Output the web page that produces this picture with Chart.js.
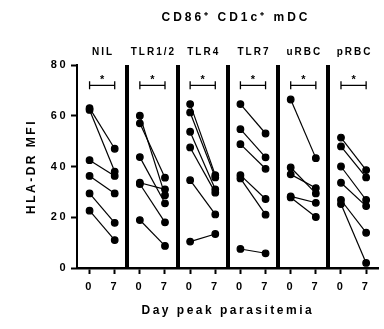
<!DOCTYPE html>
<html>
<head>
<meta charset="utf-8">
<script src="https://cdn.jsdelivr.net/npm/chart.js"></script>
<style>
  html, body { margin: 0; padding: 0; background: #fff; }
</style>
</head>
<body>
<canvas id="chart" width="384" height="329"></canvas>
<script>
// panel names and x tick labels
var panels = ['NIL', 'TLR1/2', 'TLR4', 'TLR7', 'uRBC', 'pRBC'];
var dayLabels = ['0', '7'];
var yTicks = [0, 20, 40, 60, 80];

// HLA-DR MFI per donor, day 0 and day 7 (same order = same donor)
var day0 = [
    [63, 62.3, 42.5, 36.3, 29.4, 22.6],
    [60, 57, 43.7, 33.6, 33.1, 18.9],
    [64.6, 61.3, 53.7, 47.5, 34.6, 10.4],
    [64.6, 54.7, 48.8, 36.6, 35.3, 7.5],
    [66.4, 39.6, 36.9, 28.2, 27.8],
    [51.4, 47.9, 40, 33.6, 26.8, 25.2]
];
var day7 = [
    [47, 38, 36.3, 29.4, 17.8, 11],
    [28.7, 35.6, 25.5, 31, 18, 8.7],
    [36.6, 35.7, 31, 29.7, 21.1, 13.4],
    [53, 43.6, 39.1, 27.2, 21, 5.8],
    [43.3, 29.4, 31.5, 25.7, 20.1],
    [38.6, 35.7, 26.8, 24.4, 13.9, 2]
];
var sigLevel = 72;
var sigMark = '*';

Chart.defaults.font.family = "'Liberation Sans', Arial, sans-serif";
Chart.defaults.font.weight = 'bold';
Chart.defaults.color = '#000';

var datasets = [];
for (var p = 0; p < panels.length; p++) {
    for (var i = 0; i < day0[p].length; i++) {
        datasets.push({
            data: [{x: 2 * p, y: day0[p][i]}, {x: 2 * p + 1, y: day7[p][i]}],
            borderColor: '#000',
            backgroundColor: '#000',
            borderWidth: 1.2,
            pointRadius: 3.3,
            pointHoverRadius: 3.3
        });
    }
    // significance bracket
    datasets.push({
        data: [{x: 2 * p, y: sigLevel}, {x: 2 * p + 1, y: sigLevel}],
        borderColor: '#000',
        borderWidth: 1.3,
        pointStyle: 'line',
        rotation: 90,
        pointRadius: 4,
        pointBorderWidth: 1.3
    });
}

var extras = {
    id: 'extras',
    beforeDraw: function(chart) {
        chart.ctx.letterSpacing = '2.5px';
    },
    afterDatasetsDraw: function(chart) {
        var ctx = chart.ctx;
        var xs = chart.scales.x, ys = chart.scales.y;
        var area = chart.chartArea;
        ctx.save();
        // thick panel separators
        ctx.strokeStyle = '#000';
        ctx.lineWidth = 4;
        for (var k = 1; k < panels.length; k++) {
            var px = Math.round(xs.getPixelForValue(2 * k - 0.5));
            ctx.beginPath();
            ctx.moveTo(px, area.top);
            ctx.lineTo(px, area.bottom);
            ctx.stroke();
        }
        ctx.fillStyle = '#000';
        ctx.textAlign = 'center';
        ctx.textBaseline = 'middle';
        // asterisks
        ctx.font = 'bold 11px "Liberation Sans", Arial, sans-serif';
        ctx.letterSpacing = '0px';
        for (var p = 0; p < panels.length; p++) {
            ctx.fillText(sigMark, xs.getPixelForValue(2 * p + 0.5), ys.getPixelForValue(sigLevel) - 5);
        }
        // panel names
        ctx.letterSpacing = '2px';
        ctx.font = 'bold 10px "Liberation Sans", Arial, sans-serif';
        for (var p = 0; p < panels.length; p++) {
            ctx.fillText(panels[p], xs.getPixelForValue(2 * p + 0.5) + 1, 52);
        }
        // main title
        ctx.letterSpacing = '3px';
        ctx.font = 'bold 12px "Liberation Sans", Arial, sans-serif';
        ctx.fillText('CD86\u207A CD1c\u207A mDC', 236, 18);
        ctx.restore();
    }
};

var ctx = document.getElementById('chart');
new Chart(ctx, {
    type: 'line',
    data: { datasets: datasets },
    options: {
        responsive: false,
        animation: false,
        layout: { padding: { top: 65, right: 2, left: 0, bottom: 0 } },
        plugins: { legend: { display: false }, tooltip: { enabled: false } },
        scales: {
            x: {
                type: 'linear',
                min: -0.5,
                max: 11.5,
                afterBuildTicks: function(s) {
                    s.ticks = [];
                    for (var i = 0; i < panels.length * 2; i++) s.ticks.push({value: i});
                },
                afterFit: function(s) { s.height = 61; },
                ticks: {
                    autoSkip: false,
                    maxRotation: 0,
                    padding: 6,
                    font: { size: 11, weight: 'bold' },
                    callback: function(v) { return dayLabels[v % 2]; }
                },
                grid: { drawOnChartArea: false, tickLength: 6, tickWidth: 2, tickColor: '#000' },
                border: { color: '#000', width: 2.5 },
                title: {
                    display: true,
                    text: 'Day peak parasitemia',
                    font: { size: 12, weight: 'bold' },
                    padding: { top: 4, bottom: 11 }
                }
            },
            y: {
                min: 0,
                max: 80,
                afterBuildTicks: function(s) {
                    s.ticks = yTicks.map(function(v) { return {value: v}; });
                },
                afterFit: function(s) { s.width = 77; },
                ticks: { padding: 3, font: { size: 11, weight: 'bold' } },
                grid: { drawOnChartArea: false, tickLength: 6, tickWidth: 2, tickColor: '#000' },
                border: { color: '#000', width: 2 },
                title: {
                    display: true,
                    text: 'HLA-DR MFI',
                    font: { size: 12, weight: 'bold' },
                    padding: { top: 24, bottom: 6 }
                }
            }
        }
    },
    plugins: [extras]
});
</script>
</body>
</html>
